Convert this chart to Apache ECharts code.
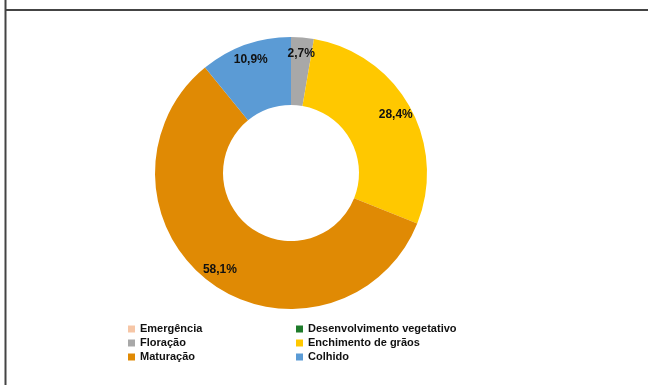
<!DOCTYPE html>
<html>
<head>
<meta charset="utf-8">
<script src="https://cdn.jsdelivr.net/npm/echarts@6/dist/echarts.min.js"></script>
<style>
  html, body { margin: 0; padding: 0; background: #fff; }
  #chart { width: 648px; height: 385px; }
</style>
</head>
<body>
<div id="chart"></div>
<script>
// Crop stages and share of area (%)
const stages = ['Emergência', 'Desenvolvimento vegetativo', 'Floração', 'Enchimento de grãos', 'Maturação', 'Colhido'];
const shares = [0, 0, 2.7, 28.4, 58.1, 10.9];
const stageColors = ['#F6C6A6', '#1E7B2A', '#A8A8A8', '#FFC800', '#E08A04', '#5B9BD5'];

const leftColumn = ['Emergência', 'Floração', 'Maturação'];
const rightColumn = ['Desenvolvimento vegetativo', 'Enchimento de grãos', 'Colhido'];

const pieData = stages.map((name, i) => ({ name, value: shares[i], itemStyle: { color: stageColors[i] } }));

const fmt = v => v === 0 ? '' : v.toFixed(1).replace('.', ',') + '%';

const legendText = { fontFamily: 'Liberation Sans, Arial, sans-serif', fontSize: 11, fontWeight: 'bold', color: '#111', lineHeight: 12 };

const chart = echarts.init(document.getElementById('chart'), null, { renderer: 'canvas' });
chart.setOption({
  animation: false,
  backgroundColor: '#fff',
  legend: [
    { orient: 'vertical', left: 128, top: 323, itemWidth: 7, itemHeight: 7, itemGap: 2, icon: 'rect',
      textStyle: legendText, data: leftColumn, selectedMode: false, padding: 0 },
    { orient: 'vertical', left: 296, top: 323, itemWidth: 7, itemHeight: 7, itemGap: 2, icon: 'rect',
      textStyle: legendText, data: rightColumn, selectedMode: false, padding: 0 }
  ],
  graphic: [
    { type: 'line', shape: { x1: 5.5, y1: 0, x2: 5.5, y2: 385 }, style: { stroke: '#444', lineWidth: 2 } },
    { type: 'line', shape: { x1: 5, y1: 10, x2: 648, y2: 10 }, style: { stroke: '#444', lineWidth: 2 } }
  ],
  series: [
    {
      type: 'pie',
      center: [291, 173],
      radius: [68, 136],
      startAngle: 90,
      clockwise: true,
      avoidLabelOverlap: false,
      label: { show: false },
      labelLine: { show: false },
      silent: true,
      data: pieData
    },
    {
      // transparent ring that carries the value labels a little outside the middle of the band
      type: 'pie',
      center: [291, 173],
      radius: [96, 138],
      startAngle: 90,
      clockwise: true,
      avoidLabelOverlap: false,
      silent: true,
      itemStyle: { color: 'rgba(0,0,0,0)' },
      label: {
        show: true, position: 'inside',
        formatter: p => fmt(p.value),
        fontFamily: 'Liberation Sans, Arial, sans-serif', fontSize: 12, fontWeight: 'bold', color: '#111'
      },
      labelLine: { show: false },
      data: stages.map((name, i) => ({ name, value: shares[i], itemStyle: { color: 'rgba(0,0,0,0)' } }))
    }
  ]
});
</script>
</body>
</html>
